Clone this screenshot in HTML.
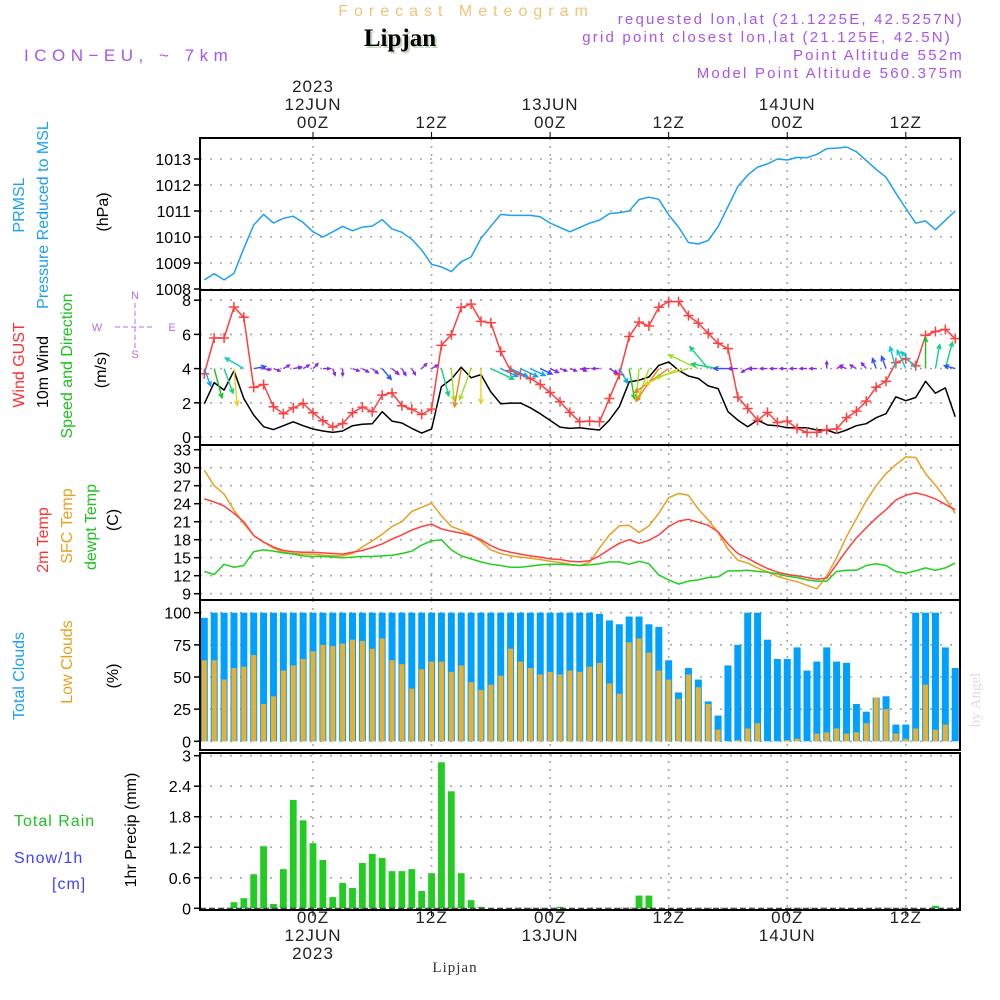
<!DOCTYPE html>
<html><head><meta charset="utf-8"><title>Forecast Meteogram Lipjan</title>
<style>
html,body{margin:0;padding:0;background:#fff;width:1000px;height:1000px;overflow:hidden}
svg text{font-family:"Liberation Sans",sans-serif}
</style></head>
<body>
<svg id="chart" width="1000" height="1000" viewBox="0 0 1000 1000" xmlns="http://www.w3.org/2000/svg">
<text x="466" y="16" font-size="16" fill="#f3c27a" text-anchor="middle" letter-spacing="6">Forecast Meteogram</text>
<text x="402" y="48" font-size="25" font-weight="bold" fill="#c8d8c0" text-anchor="middle" style="font-family:'Liberation Serif',serif">Lipjan</text>
<text x="400" y="46" font-size="25" font-weight="bold" fill="#000" text-anchor="middle" style="font-family:'Liberation Serif',serif">Lipjan</text>
<text x="24" y="61" font-size="17" fill="#a855e8" letter-spacing="5.5">ICON−EU, ~ 7km</text>
<g fill="#a855e8" font-size="15" text-anchor="end" letter-spacing="2.2">
<text x="964" y="24">requested lon,lat (21.1225E, 42.5257N)</text>
<text x="952" y="42">grid point closest lon,lat (21.125E, 42.5N)</text>
<text x="964" y="60">Point Altitude 552m</text>
<text x="964" y="78">Model Point Altitude 560.375m</text>
</g>
<text x="980" y="700" font-size="15" fill="#ddd" transform="rotate(-90 980 700)" text-anchor="middle" style="font-family:'Liberation Serif',serif">by Angel</text>
<g font-size="16">
<text transform="translate(24,205) rotate(-90)" text-anchor="middle" fill="#1ea0f0">PRMSL</text>
<text transform="translate(48,215) rotate(-90)" text-anchor="middle" fill="#1ea0f0">Pressure Reduced to MSL</text>
<text transform="translate(108,212) rotate(-90)" text-anchor="middle" fill="#000">(hPa)</text>
<text transform="translate(24,365) rotate(-90)" text-anchor="middle" fill="#ff3030">Wind GUST</text>
<text transform="translate(48,372) rotate(-90)" text-anchor="middle" fill="#000">10m Wind</text>
<text transform="translate(72,366) rotate(-90)" text-anchor="middle" fill="#20c020">Speed and Direction</text>
<text transform="translate(106,370) rotate(-90)" text-anchor="middle" fill="#000">(m/s)</text>
<text transform="translate(48,540) rotate(-90)" text-anchor="middle" fill="#ff3030">2m Temp</text>
<text transform="translate(72,526) rotate(-90)" text-anchor="middle" fill="#e8a020">SFC Temp</text>
<text transform="translate(96,527) rotate(-90)" text-anchor="middle" fill="#20c020">dewpt Temp</text>
<text transform="translate(118,520) rotate(-90)" text-anchor="middle" fill="#000">(C)</text>
<text transform="translate(24,676) rotate(-90)" text-anchor="middle" fill="#1ea0f0">Total Clouds</text>
<text transform="translate(72,662) rotate(-90)" text-anchor="middle" fill="#e8a020">Low Clouds</text>
<text transform="translate(118,676) rotate(-90)" text-anchor="middle" fill="#000">(%)</text>
<text transform="translate(136,830) rotate(-90)" text-anchor="middle" fill="#000">1hr Precip (mm)</text>
<text x="14" y="826" fill="#20c020" letter-spacing="1">Total  Rain</text>
<text x="14" y="863" fill="#4040ff" letter-spacing="1">Snow/1h</text>
<text x="52" y="889" fill="#4040ff" letter-spacing="1">[cm]</text>
</g>
<g fill="#b070f0" font-size="11" stroke="#b070f0">
<text x="135" y="299" text-anchor="middle" stroke="none">N</text>
<text x="135" y="358" text-anchor="middle" stroke="none">S</text>
<text x="97" y="331" text-anchor="middle" stroke="none">W</text>
<text x="172" y="331" text-anchor="middle" stroke="none">E</text>
<line x1="115" y1="327" x2="155" y2="327" stroke-dasharray="5 3"/>
<line x1="135" y1="303" x2="135" y2="350" stroke-dasharray="5 3"/>
</g>
<text x="455" y="972" font-size="15" fill="#333" text-anchor="middle" style="font-family:'Liberation Serif',serif" letter-spacing="1">Lipjan</text>
<g id="plot"></g>
</svg>
<script>
const startHour = -11;
const pressure = [1008.35,1008.59,1008.35,1008.6,1009.56,1010.46,1010.87,1010.54,1010.72,1010.8,1010.56,1010.2,1010.0,1010.2,1010.41,1010.24,1010.38,1010.42,1010.67,1010.31,1010.18,1009.91,1009.5,1008.95,1008.85,1008.67,1009.05,1009.23,1009.95,1010.41,1010.87,1010.83,1010.83,1010.83,1010.78,1010.54,1010.37,1010.2,1010.37,1010.53,1010.65,
1010.9,1010.94,1011.0,1011.44,1011.53,1011.45,1010.85,1010.38,1009.79,1009.73,1009.87,1010.4,1011.17,1011.94,1012.38,1012.69,1012.81,1013.0,1012.96,1013.06,1013.05,1013.18,1013.4,1013.42,1013.46,1013.28,1012.94,1012.6,1012.3,1011.68,1011.1,1010.53,1010.62,1010.28,1010.64,1011.0];
const gust = [3.69,5.79,5.79,7.6,7.0,2.9,3.07,1.77,1.36,1.7,1.96,1.42,0.95,0.58,0.78,1.42,1.75,1.48,2.45,2.58,1.83,1.63,1.32,1.63,5.36,5.98,7.57,7.77,6.76,6.68,5.0,3.88,3.65,3.42,3.07,2.6,2.06,1.44,0.89,0.93,
0.89,2.25,3.65,5.88,6.72,6.49,7.59,7.92,7.92,7.1,6.66,6.06,5.48,5.17,2.33,1.67,0.97,1.44,0.85,0.93,0.5,0.27,0.27,0.43,0.47,1.13,1.51,2.1,2.91,3.26,4.35,4.58,4.16,5.94,6.17,6.29,5.75];
const wind = [1.94,3.18,2.74,3.88,2.25,1.28,0.6,0.43,0.66,0.89,0.66,0.47,0.35,0.27,0.35,0.66,0.74,0.78,1.48,0.93,0.82,0.5,0.23,0.47,2.95,3.38,4.08,3.46,3.65,2.64,1.94,1.98,1.98,1.71,1.36,0.97,0.58,0.5,0.54,0.47,
0.41,0.99,1.77,3.22,3.32,3.51,4.19,4.39,3.9,3.57,3.42,2.99,2.83,1.48,0.99,0.6,0.99,0.7,0.66,0.54,0.54,0.54,0.41,0.41,0.21,0.41,0.66,0.78,1.13,1.36,2.35,2.12,2.31,3.26,2.56,2.87,1.18];
const windDir = [160,165,160,175,300,80,100,110,60,80,60,
45,90,160,180,110,120,130,140,130,150,
150,45,60,165,175,190,200,180,115,115,
115,115,115,115,115,110,110,110,270,270,
120,150,170,185,200,215,235,245,255,295,
320,280,270,270,240,270,270,270,270,270,
270,270,0,60,290,300,320,340,340,345,
335,320,0,10,15,285];
const temp2m = [24.8,24.3,23.6,22.4,21.0,18.7,17.6,16.8,16.2,16.0,15.9,15.9,15.8,15.7,15.6,15.9,16.2,16.7,17.3,18.1,18.8,19.6,20.2,20.6,19.8,19.4,19.1,18.7,18.0,17.0,16.3,15.9,15.6,15.3,15.1,14.8,14.7,14.4,14.3,14.5,
15.3,16.4,17.4,18.0,17.4,17.9,18.8,20.2,21.1,21.4,20.9,20.4,19.3,17.3,15.7,14.9,14.0,13.2,12.6,12.2,12.0,11.7,11.4,11.6,13.9,16.2,18.3,20.0,21.6,23.0,24.6,25.4,25.8,25.4,24.8,23.9,23.0];
const tempSfc = [29.6,27.0,25.6,22.9,20.7,18.7,17.6,16.6,15.9,15.7,15.6,15.6,15.4,15.3,15.3,15.7,16.8,17.8,18.9,20.2,21.0,22.7,23.4,24.1,22.0,20.2,19.6,18.8,17.7,16.3,15.7,15.3,15.1,14.9,14.7,14.4,14.2,13.9,13.7,14.2,
16.6,18.8,20.3,20.4,19.2,20.3,22.4,25.0,25.7,25.4,23.1,21.3,19.2,16.4,14.6,14.1,13.3,12.6,11.9,11.4,11.0,10.4,9.8,12.0,15.0,18.5,21.5,24.5,27.0,29.0,30.5,31.8,31.7,29.0,27.1,24.9,22.4];
const dewpt = [12.7,12.2,13.9,13.4,13.7,16.0,16.3,16.1,15.8,15.6,15.3,15.2,15.2,15.1,15.0,15.1,15.2,15.2,15.3,15.4,15.7,16.1,17.1,17.8,18.0,16.3,15.3,14.8,14.3,13.9,13.7,13.4,13.4,13.6,13.8,13.9,13.9,13.8,13.7,13.8,
14.0,14.3,14.3,13.9,14.4,14.0,12.1,11.3,10.6,11.1,11.3,11.7,11.8,12.8,12.8,12.9,12.7,12.6,12.3,11.9,11.7,11.3,11.1,11.1,12.7,12.9,12.9,13.7,14.0,13.7,12.7,12.4,12.8,13.3,12.9,13.3,14.1];
const totalCloud = [96,100,100,100,100,100,100,100,100,100,100,100,100,100,100,100,100,100,100,100,100,100,100,100,100,100,100,100,100,100,100,100,100,100,100,100,100,100,100,100,
99,94,91,97,97,91,89,63,38,57,48,31,20,59,75,100,100,79,64,64,73,55,62,73,62,61,29,23,34,35,13,13,100,100,100,73,57];
const lowCloud = [63,63,48,57,58,67,29,35,55,59,64,70,75,74,76,79,78,72,80,63,60,41,56,62,62,54,59,46,40,44,51,72,62,57,52,54,52,55,54,58,
61,45,37,77,80,69,55,48,33,52,42,29,9,0,1,10,14,0,0,1,2,0,6,7,10,6,7,14,34,25,6,2,10,44,9,13,0];
const precip = [0,0,0,0.12,0.2,0.67,1.22,0.085,0.77,2.13,1.73,
1.28,0.95,0.22,0.5,0.4,0.89,1.07,0.99,0.73,0.73,
0.77,0.34,0.69,2.87,2.3,0.69,0.16,0.03,0,0,
0,0,0,0,0,0.03,0,0,0,0,
0,0,0,0.25,0.25,0,0,0,0,0,
0,0,0,0,0,0,0,0,0,0,
0,0,0,0,0,0,0,0,0,0,
0,0,0,0.05,0,0];
const pTicks = [1008,1009,1010,1011,1012,1013];
const wTicks = [0,2,4,6,8];
const tTicks = [9,12,15,18,21,24,27,30,33];
const cTicks = [0,25,50,75,100];
const rTicks = ["0","0.6","1.2","1.8","2.4","3"];
const gridHours = [0,12,24,36,48,60];
const topLabels = [["2023","12JUN","00Z"],["","","12Z"],["","13JUN","00Z"],["","","12Z"],["","14JUN","00Z"],["","","12Z"]];
const bottomLabels = [["00Z","12JUN","2023"],["12Z","",""],["00Z","13JUN",""],["12Z","",""],["00Z","14JUN",""],["12Z","",""]];

const X0 = 200, X1 = 960;
const xH = h => 313 + 9.88 * h;
const yP = p => 159 + (1013 - p) * 26;
const yW = w => 437 - w * 17.1;
const yT = t => 449.7 + (33 - t) * 6;
const yC = c => 741.3 - c * 1.286;
const yR = r => 908.3 - r * 50.87;
const panels = [[138,290],[290,445],[445,600],[600,750],[753,910]];

const NS = "http://www.w3.org/2000/svg";
const root = document.getElementById("plot");
function mk(tag, attrs, parent) {
  const e = document.createElementNS(NS, tag);
  for (const k in attrs) e.setAttribute(k, attrs[k]);
  (parent || root).appendChild(e);
  return e;
}
const defs = mk("defs", {});
const clip = mk("clipPath", {id: "pc"}, defs);
mk("rect", {x: X0, y: 138, width: X1 - X0, height: 772}, clip);

panels.forEach((pn, i) => {
  gridHours.forEach(h => {
    const g = mk("line", {x1: xH(h), x2: xH(h), y1: pn[0], y2: pn[1], stroke: "#a8a8a8", "stroke-width": 1.6, "stroke-dasharray": "2 6"});
    
    
  });
});
function hGrid(vals, f, labels, name) {
  vals.forEach((v, i) => {
    const y = f(v);
    const g = mk("line", {x1: X0, x2: X1, y1: y, y2: y, stroke: "#a8a8a8", "stroke-width": 1.6, "stroke-dasharray": "2 8"});
    
    
    mk("line", {x1: X0 - 6, x2: X0, y1: y, y2: y, stroke: "#000", "stroke-width": 1.5});
    const t = mk("text", {x: X0 - 9, y: y + 6, "font-size": 16, "text-anchor": "end", fill: "#000"});
    t.textContent = labels ? labels[i] : v;
    
    
  });
}
hGrid(pTicks, yP, null, "pressure");
hGrid(wTicks, yW, null, "wind");
hGrid(tTicks, yT, null, "temp");
hGrid(cTicks, yC, null, "cloud");
hGrid(rTicks.map(Number), yR, rTicks, "precip");

const plotG = mk("g", {"clip-path": "url(#pc)"});
function line(arr, f, color, name, w) {
  const pts = arr.map((v, i) => xH(startHour + i).toFixed(1) + "," + f(v).toFixed(1)).join(" ");
  const p = mk("polyline", {points: pts, fill: "none", stroke: color, "stroke-width": w || 1.5, "stroke-linejoin": "round"}, plotG);
  
  
  return p;
}
totalCloud.forEach((v, i) => {
  const x = xH(startHour + i);
  const r = mk("rect", {x: x - 3.5, y: yC(v), width: 7, height: yC(0) - yC(v), fill: "#00a0ff"}, plotG);
  
  
});
lowCloud.forEach((v, i) => {
  const x = xH(startHour + i);
  const r = mk("rect", {x: x - 2.5, y: yC(v), width: 5, height: yC(0) - yC(v), fill: "#e8b030"}, plotG);
  
  
});
precip.forEach((v, i) => {
  if (v <= 0) return;
  const x = xH(startHour + i);
  const r = mk("rect", {x: x - 3.4, y: yR(v), width: 6.8, height: yR(0) - yR(v), fill: "#22cc22"}, plotG);
  
  
});
mk("line", {x1: X0, x2: X1, y1: yR(0), y2: yR(0), stroke: "#333", "stroke-width": 1.2, "stroke-dasharray": "6 3"}, plotG);
line(pressure, yP, "#1ea0f0", "pressure-line");
line(tempSfc, yT, "#e8a020", "sfc-temp-line");
line(temp2m, yT, "#ff4040", "temp-2m-line");
line(dewpt, yT, "#20d020", "dewpoint-line");
line(wind, yW, "#000", "wind-speed-line");
line(gust, yW, "#ff4040", "gust-line");
gust.forEach((v, i) => {
  const x = xH(startHour + i), y = yW(v);
  const m = mk("path", {d: `M${x-5},${y}H${x+5}M${x},${y-5}V${y+5}`, stroke: "#ff4040", "stroke-width": 1.5}, plotG);
  
  
});
function windColor(s) {
  if (s < 1) return "#8a2be2";
  if (s < 1.5) return "#3050ff";
  if (s < 2) return "#10a0f0";
  if (s < 2.5) return "#10c8c8";
  if (s < 3) return "#10d080";
  if (s < 3.3) return "#20c020";
  if (s < 3.6) return "#a0e020";
  if (s < 4) return "#e8d020";
  return "#f08020";
}
windDir.forEach((d, i) => {
  const s = wind[i];
  const x = xH(startHour + i), y = yW(4);
  const L = Math.max(7, s * 9.5);
  const a = d * Math.PI / 180;
  const x2 = x + Math.sin(a) * L, y2 = y - Math.cos(a) * L;
  const hl = Math.min(5, L * 0.45);
  const b1 = a + Math.PI - 0.45, b2 = a + Math.PI + 0.45;
  const c = windColor(s);
  const p = mk("path", {d: `M${x},${y}L${x2},${y2}M${x2+Math.sin(b1)*hl},${y2-Math.cos(b1)*hl}L${x2},${y2}L${x2+Math.sin(b2)*hl},${y2-Math.cos(b2)*hl}`, stroke: c, "stroke-width": 1.4, fill: "none"}, plotG);
  
  
});
panels.forEach(pn => {
  const f = mk("rect", {x: X0, y: pn[0], width: X1 - X0, height: pn[1] - pn[0], fill: "none", stroke: "#000", "stroke-width": 2});
  
  
});
gridHours.forEach((h, i) => {
  const x = xH(h);
  mk("line", {x1: x, x2: x, y1: 132, y2: 138, stroke: "#000"});
  topLabels[i].forEach((s, j) => {
    if (!s) return;
    const t = mk("text", {x: x, y: 92 + j * 18, "font-size": 17, "text-anchor": "middle", fill: "#222", "letter-spacing": 1});
    t.textContent = s;
    
    
  });
  mk("line", {x1: x, x2: x, y1: 910, y2: 916, stroke: "#000"});
  bottomLabels[i].forEach((s, j) => {
    if (!s) return;
    const t = mk("text", {x: x, y: 923 + j * 18, "font-size": 17, "text-anchor": "middle", fill: "#222", "letter-spacing": 1});
    t.textContent = s;
    
    
  });
});
</script>
</body></html>
